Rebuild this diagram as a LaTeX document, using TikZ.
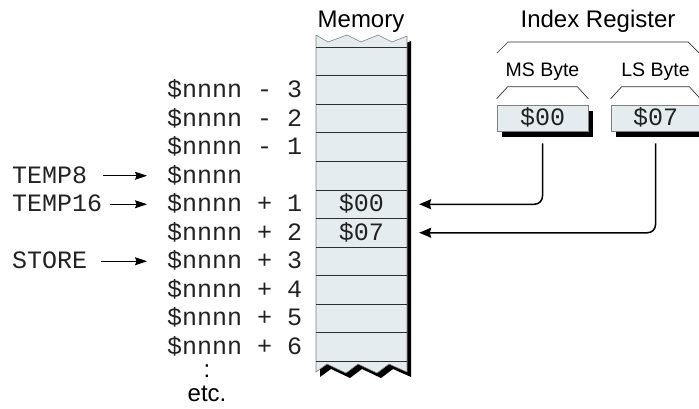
\documentclass[tikz,border=0pt]{standalone}
\usepackage{fontspec}
\setmainfont{Liberation Sans}
\setmonofont{Liberation Mono}
\usetikzlibrary{arrows.meta,shadows}
\definecolor{cellfill}{HTML}{E5ECEF}
\definecolor{edgegray}{HTML}{808080}
\definecolor{rowgray}{HTML}{2E2E2E}
\definecolor{monotext}{HTML}{222222}
\begin{document}
\begin{tikzpicture}[x=1pt,y=-1pt,
  mono/.style={font=\ttfamily\fontsize{25}{29}\selectfont, text=monotext, inner sep=0pt, text height=15pt, text depth=0pt},
  lbl/.style={font=\fontsize{24}{28}\selectfont, inner sep=0pt},
  smalllbl/.style={font=\fontsize{19.5}{23}\selectfont, inner sep=0pt},
  cell/.style={mono, minimum width=91pt, minimum height=28.5pt},
  regbox/.style={mono, draw=edgegray, line width=0.6pt, fill=cellfill, minimum height=26pt,
    general shadow={fill=black, shadow xshift=5pt, shadow yshift=-6pt}},
  brk/.style={draw=rowgray, line width=0.7pt},
  rowline/.style={draw=rowgray, line width=1pt},
  larrow/.style={draw=black, line width=1.1pt, -{Stealth[length=12pt,width=8pt,inset=1.5pt]}},
  conn/.style={draw=black, line width=1.5pt, rounded corners=8pt, -{Stealth[length=12pt,width=10pt,inset=1.5pt]}}
]
\useasboundingbox (0,0) rectangle (699,409);

% memory column shadow
\fill[black] (320,40) -- (332,47) -- (351,40) -- (365,47) -- (382,40) -- (396,47) -- (411,41)
  -- (411,377) -- (393,369) -- (381,378) -- (362,369) -- (350,378) -- (331,369) -- (320,377) -- cycle;
% memory column
\path[fill=cellfill, draw=edgegray, line width=0.6pt]
  (316,35) -- (328,42) -- (347,35) -- (361,42) -- (378,35) -- (392,42) -- (407,36)
  -- (407,372) -- (389,364) -- (377,373) -- (358,364) -- (346,373) -- (327,364) -- (316,372) -- cycle;
\foreach \yy in {47.5,76,104.5,133,161.5,190,218.5,247,275.5,304,332.5,361}
  \draw[rowline] (316,\yy) -- (407,\yy);

% cells with contents
\node[cell] (m1) at (361.5,204.25) {\$00};
\node[cell] (m2) at (361.5,232.75) {\$07};

% titles
\node[lbl, anchor=base] (memt) at (361,28) {Memory};
\node[lbl, anchor=base] (idxt) at (598,28) {Index Register};
\node[smalllbl, anchor=base] (mst) at (542.5,77) {MS Byte};
\node[smalllbl, anchor=base] (lst) at (655.5,77) {LS Byte};

% index register bracket
\draw[brk] (497,53) -- (508,42) -- (688,42) -- (699,53);

% register bytes
\node[regbox, minimum width=91pt] (ms) at (542.5,118) {\$00};
\node[regbox, minimum width=89pt] (ls) at (655.5,118) {\$07};
\draw[brk] ([yshift=6pt]ms.north west) -- ([xshift=11pt,yshift=18pt]ms.north west)
  -- ([xshift=-11pt,yshift=18pt]ms.north east) -- ([yshift=6pt]ms.north east);
\draw[brk] ([yshift=6pt]ls.north west) -- ([xshift=11pt,yshift=18pt]ls.north west)
  -- ([xshift=-11pt,yshift=18pt]ls.north east) -- ([yshift=6pt]ls.north east);

% address labels
\node[mono, anchor=base west] (r0) at (167,97.75) {\$nnnn - 3};
\node[mono, anchor=base west] (r1) at (167,126.25) {\$nnnn - 2};
\node[mono, anchor=base west] (r2) at (167,154.75) {\$nnnn - 1};
\node[mono, anchor=base west] (r3) at (167,183.25) {\$nnnn};
\node[mono, anchor=base west] (r4) at (167,211.75) {\$nnnn + 1};
\node[mono, anchor=base west] (r5) at (167,240.25) {\$nnnn + 2};
\node[mono, anchor=base west] (r6) at (167,268.75) {\$nnnn + 3};
\node[mono, anchor=base west] (r7) at (167,297.25) {\$nnnn + 4};
\node[mono, anchor=base west] (r8) at (167,325.75) {\$nnnn + 5};
\node[mono, anchor=base west] (r9) at (167,354.25) {\$nnnn + 6};
\node[lbl, anchor=base] (colon) at (207,377) {:};
\node[lbl, anchor=base] (etc) at (207,401) {etc.};

% symbol labels
\node[mono, anchor=base west] (t8) at (12,183.25) {TEMP8};
\node[mono, anchor=base west] (t16) at (12,211.75) {TEMP16};
\node[mono, anchor=base west] (st) at (12,268.75) {STORE};
\draw[larrow] ([xshift=16pt]t8.east) -- ([xshift=-20pt]r3.west);
\draw[larrow] ([xshift=8pt]t16.east) -- ([xshift=-20pt]r4.west);
\draw[larrow] ([xshift=14pt]st.east) -- ([xshift=-20pt]r6.west);

% connectors
\draw[conn] ([yshift=-12pt]ms.south) |- ([xshift=12pt]m1.east);
\draw[conn] ([yshift=-12pt]ls.south) |- ([xshift=12pt]m2.east);
\end{tikzpicture}
\end{document}
